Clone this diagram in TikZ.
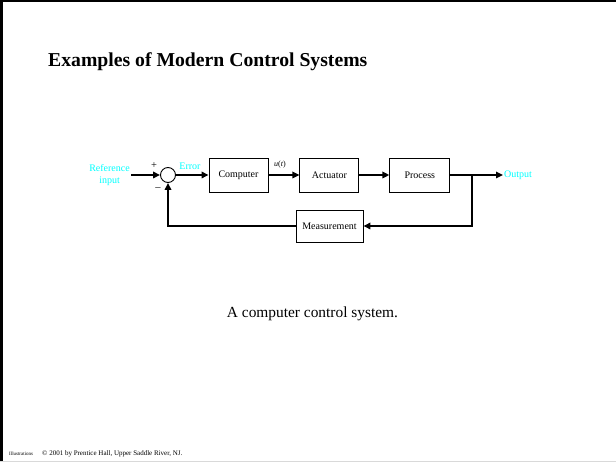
\documentclass[tikz,border=0pt]{standalone}
\usepackage{fontspec}
\setmainfont{Liberation Serif}
\usetikzlibrary{positioning,arrows.meta}
\definecolor{sigColor}{HTML}{00FFFF}
\definecolor{frameGray}{HTML}{D9D9D9}

\begin{document}
\begin{tikzpicture}[
  x=1pt, y=-1pt,
  font=\fontsize{10}{12}\selectfont,
  block/.style  ={draw, line width=0.9pt, minimum height=34pt, inner sep=2pt},
  sumnode/.style={draw, circle, line width=0.9pt, minimum size=15pt, inner sep=0pt},
  sig/.style    ={text=sigColor, font=\fontsize{10}{12.5}\selectfont, align=center, inner sep=1pt},
  lbl/.style    ={font=\fontsize{10.5}{11}\selectfont, inner sep=0pt},
  foot/.style   ={anchor=base west, inner sep=0pt, font=\fontsize{5}{6}\selectfont},
  flow/.style   ={-{Triangle[length=7pt,width=6.5pt]}, line width=1.6pt},
  wire/.style   ={line width=1.6pt},
]
\useasboundingbox (0,0) rectangle (616,462);

% ==================== Slide frame ====================
\fill (0,0) rectangle (3,462);
\fill (0,0) rectangle (616,2.5);
\draw[frameGray, line width=1pt] (0,461.5) -- (616,461.5);

\node[anchor=base west, inner sep=0pt, font=\fontsize{19.7}{23}\selectfont\bfseries] (title) at (48,67) {Examples of Modern Control Systems};

% ==================== Forward path ====================
\node[sumnode] (sum) at (168,175) {};
\node[block, minimum width=59pt] (comp) at (238.5,175) {Computer};
\node[block, minimum width=59pt, right=31pt of comp] (act)  {Actuator};
\node[block, minimum width=60pt, right=30pt of act]  (proc) {Process};
\coordinate (branch) at (472,175);

% ==================== Feedback path ====================
\node[block, minimum width=67pt, minimum height=32pt] (meas) at (329.5,226) {Measurement};

% ==================== Signal labels ====================
\node[sig, anchor=east] (ref) at (131,175) {Reference\\input};
\node[sig, anchor=west] (out) at (503,175) {Output};
\node[sig] (err) at (190,166) {Error};
\node[lbl] (plus)  at (154,166) {+};
\node[lbl] (minus) at (158,189) {–};
\node[lbl, font=\fontsize{8}{9}\selectfont] (u) at (280,165) {\textit{u}(\textit{t})};

% ==================== Arrows ====================
\draw[flow] (ref.east) -- (sum.west);
\draw[flow] (sum.east) -- (comp.west);
\draw[flow] (comp.east) -- (act.west);
\draw[flow] (act.east) -- (proc.west);
\draw[wire] (proc.east) -- (branch);
\draw[flow] (branch) -- (out.west);
% feedback loop
\draw[flow] (branch) |- (meas.east);
\draw[flow] (meas.west) -| (sum.south);

% ==================== Caption + footer ====================
\node[anchor=base, font=\fontsize{15.4}{18}\selectfont] (cap) at (312.5,318) {A computer control system.};
\node[foot] (illu) at (9,455) {Illustrations};
\node[foot, font=\fontsize{7}{8}\selectfont] (copy) at (42,455) {© 2001 by Prentice Hall, Upper Saddle River, NJ.};

\end{tikzpicture}
\end{document}
